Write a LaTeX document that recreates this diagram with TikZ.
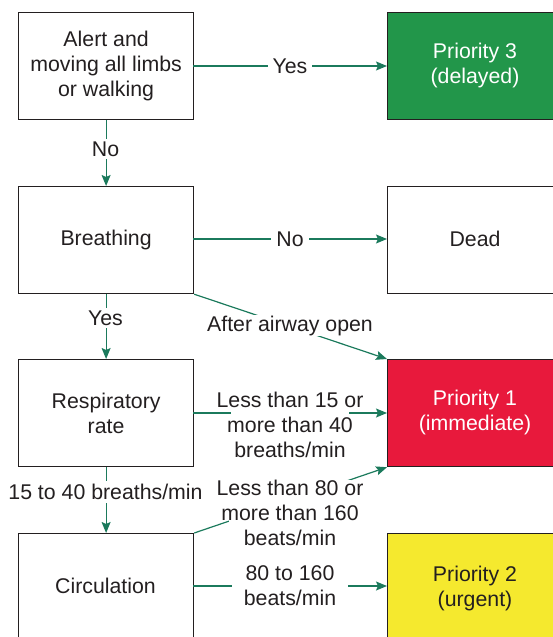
\documentclass[tikz,border=0pt]{standalone}
\usepackage{fontspec}
\setmainfont{Liberation Sans}
\usetikzlibrary{arrows.meta}
\definecolor{edgegreen}{HTML}{1B7A5C}
\definecolor{boxline}{HTML}{231F20}
\definecolor{pgreen}{HTML}{22964A}
\definecolor{pred}{HTML}{E8193C}
\definecolor{pyellow}{HTML}{F5E92E}
\tikzset{
  txt/.style={font=\fontsize{21.3}{25}\selectfont},
  box/.style={draw=boxline, line width=1.2pt, minimum width=175pt, minimum height=107pt,
    inner sep=0pt, align=center, text=boxline, txt, anchor=north west},
  conn/.style={draw=edgegreen, line width=1.2pt, -{Stealth[length=11pt,width=9pt,inset=2pt]}},
  lbl/.style={fill=white, align=center, text=boxline, txt,
    inner xsep=5pt, inner ysep=3pt}
}
\begin{document}
\begin{tikzpicture}[x=1pt,y=-1pt]
\useasboundingbox (0,0) rectangle (553,637);
\clip (0,0) rectangle (553,637);
% left column
\node[box] (alert) at (18,12) {Alert and\\moving all limbs\\or walking};
\node[box] (breath) at (18,186) {Breathing};
\node[box] (resp) at (18,359) {Respiratory\\rate};
\node[box, minimum height=115pt] (circ) at (18,533) {};
\node[text=boxline, txt] (circt) at (105.5,586) {Circulation};
% right column
\node[box, fill=pgreen] (p3) at (387,12) {};
\node[text=white, align=center, txt] (p3t) at (475,65.5) {Priority 3\\(delayed)};
\node[box] (dead) at (387,186) {};
\node[text=boxline, txt] (deadt) at (475,239) {Dead};
\node[box, fill=pred] (p1) at (387,359) {};
\node[text=white, align=center, txt] (p1t) at (475,412.5) {Priority 1\\(immediate)};
\node[box, fill=pyellow, minimum height=115pt] (p2) at (387,533) {};
\node[text=boxline, align=center, txt] (p2t) at (475,588) {Priority 2\\(urgent)};
% connectors
\coordinate (a1) at (193,66);
\coordinate (a2) at (387,66);
\draw[conn] (a1) -- (a2);
\node[lbl] (yes1) at (290,66) {Yes};

\draw[conn] (alert.south) -- (breath.north);
\node[lbl] (no1) at (105.5,149) {No};

\coordinate (b1) at (193,239);
\coordinate (b2) at (387,239);
\draw[conn] (b1) -- (b2);
\node[lbl] (no2) at (290,239) {No};

\draw[conn] (breath.south) -- (resp.north);
\node[lbl] (yes2) at (105.5,318) {Yes};

\draw[conn] (breath.south east) -- (p1.north west);
\node[lbl, inner sep=1pt] (airway) at (290,325.5) {After airway open};

\coordinate (r1) at (193,413);
\coordinate (r2) at (387,413);
\draw[conn] (r1) -- (r2);
\node[lbl, inner xsep=-14.5pt, inner ysep=0pt] (rlbl) at (290,425) {Less than 15 or\\more than 40\\breaths/min};

\draw[conn] (resp.south) -- (circ.north);
\node[lbl, inner xsep=2pt] (r40) at (105.5,492) {15 to 40 breaths/min};

\draw[conn] (circ.north east) -- (p1.south west);
\node[lbl, inner xsep=-12.5pt, inner ysep=0pt] (clbl) at (290,513) {Less than 80 or\\more than 160\\beats/min};

\coordinate (c1) at (193,586);
\coordinate (c2) at (387,586);
\draw[conn] (c1) -- (c2);
\node[lbl, inner xsep=12pt, inner ysep=0pt] (c2lbl) at (290,586) {80 to 160\\beats/min};
\end{tikzpicture}
\end{document}
